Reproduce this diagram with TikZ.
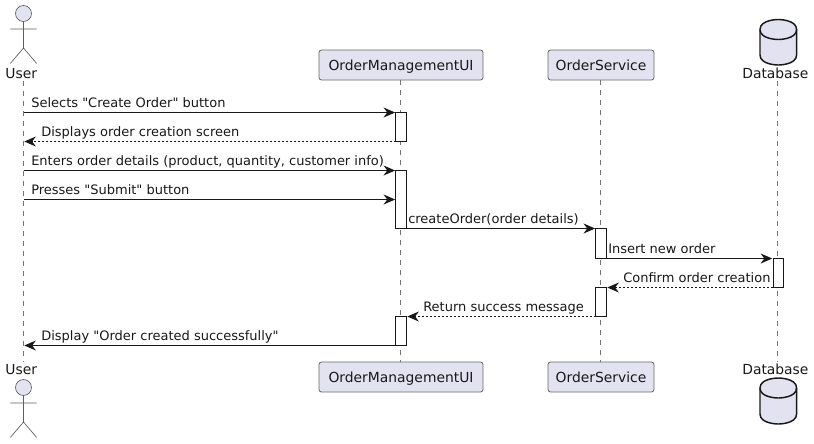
\documentclass[tikz,border=0pt]{standalone}
\usepackage{fontspec}
\newfontfamily\djv{DejaVu Sans}
\usetikzlibrary{arrows.meta}
\definecolor{pfill}{HTML}{E2E2F0}
\definecolor{pline}{HTML}{181818}
\tikzset{
  x=0.75pt,y=-0.75pt,
  msg/.style={draw=pline,line width=0.8pt,shorten >=0.6pt,-{Stealth[length=8.7pt,width=7.5pt,inset=2.8pt]}},
  reply/.style={msg,dash pattern=on 1.5pt off 1.5pt},
  life/.style={draw=pline!60,line width=0.55pt,dash pattern=on 3.75pt off 3.75pt},
  headbox/.style={draw=pline!65,fill=pfill,rounded corners=1.9pt,line width=0.65pt,minimum width=#1*0.75pt,minimum height=22.5pt,inner sep=0pt,outer sep=0pt,text=pline,text height=8.5pt,text depth=1pt,font=\djv\fontsize{10.4pt}{12pt}\selectfont},
  act/.style={draw=pline,fill=white,line width=0.8pt,minimum width=7.9pt,minimum height=#1*0.75pt,inner sep=0pt,outer sep=0pt},
  lbl/.style={anchor=base west,inner sep=0pt,text=pline,font=\djv\fontsize{9.75pt}{12pt}\selectfont},
  plbl/.style={anchor=base,inner sep=0pt,text=pline,font=\djv\fontsize{10.4pt}{12pt}\selectfont},
  actorline/.style={draw=pline!70,line width=0.5pt,fill=pfill},
  dbline/.style={draw=pline,line width=1.1pt,fill=pfill},
}
\begin{document}
\begin{tikzpicture}
\useasboundingbox (0,0) rectangle (814,443);
% participant heads
\node[headbox=164] (omT) at (401,65) {OrderManagementUI};
\node[headbox=106] (osT) at (601,65) {OrderService};
\node[headbox=164] (omB) at (401,377) {OrderManagementUI};
\node[headbox=106] (osB) at (601,377) {OrderService};
\coordinate (uT) at (23.5,81);
\coordinate (uB) at (23.5,362);
\coordinate (dT) at (777.5,81);
\coordinate (dB) at (777.5,362);
% lifelines
\draw[life] (uT) -- (uB);
\draw[life] (omT.south -| 400.5,0) -- (omB.north -| 400.5,0);
\draw[life] (osT.south -| 600.5,0) -- (osB.north -| 600.5,0);
\draw[life] (dT) -- (dB);
% activations
\node[act=29] (a1) at (401.2,127) {};
\node[act=58] (a2) at (401.2,199.5) {};
\node[act=30] (b1) at (601.2,243.5) {};
\node[act=29] (d1) at (778.3,273) {};
\node[act=29] (b2) at (601.2,302) {};
\node[act=29] (a3) at (401.2,331) {};
% user actor, top and bottom
\draw[actorline] (23.5,13.5) circle[radius=8];
\draw[actorline,fill=none] (23.5,21.5) -- (23.5,48) (10.3,29) -- (36.7,29) (10.3,63.5) -- (23.5,48) -- (36.7,63.5);
\draw[actorline] (23.5,387.5) circle[radius=8];
\draw[actorline,fill=none] (23.5,395.5) -- (23.5,422) (10.3,403) -- (36.7,403) (10.3,437.5) -- (23.5,422) -- (36.7,437.5);
\node[plbl] (uLT) at (21.3,78) {User};
\node[plbl] (uLB) at (21.3,374) {User};
% database
\draw[dbline] (760,29.5) .. controls (760,19.5) and (778.3,19.5) .. (778.3,19.5) .. controls (778.3,19.5) and (796.6,19.5) .. (796.6,29.5) -- (796.6,55) .. controls (796.6,65) and (778.3,65) .. (778.3,65) .. controls (778.3,65) and (760,65) .. (760,55) -- cycle;
\draw[dbline,fill=none] (760,29.5) .. controls (760,39.5) and (778.3,39.5) .. (778.3,39.5) .. controls (778.3,39.5) and (796.6,39.5) .. (796.6,29.5);
\draw[dbline] (760,388) .. controls (760,378) and (778.3,378) .. (778.3,378) .. controls (778.3,378) and (796.6,378) .. (796.6,388) -- (796.6,414) .. controls (796.6,424) and (778.3,424) .. (778.3,424) .. controls (778.3,424) and (760,424) .. (760,414) -- cycle;
\draw[dbline,fill=none] (760,388) .. controls (760,398) and (778.3,398) .. (778.3,398) .. controls (778.3,398) and (796.6,398) .. (796.6,388);
\node[plbl] (dLT) at (775.4,78) {Database};
\node[plbl] (dLB) at (775.4,374) {Database};
% messages
\coordinate (m1) at (23.5,112.5);
\coordinate (m2) at (23.5,141.5);
\coordinate (m3) at (23.5,170.5);
\coordinate (m4) at (23.5,199.5);
\coordinate (m9) at (23.5,345.5);
\draw[msg] (m1) -- (a1.north west);
\draw[reply] (a1.south west) -- (m2);
\draw[msg] (m3) -- (a2.north west);
\draw[msg] (m4) -- (a2.west);
\draw[msg] (a2.south east) -- (b1.north west);
\draw[msg] (b1.south east) -- (d1.north west);
\draw[reply] (d1.south west) -- (b2.north east);
\draw[reply] (b2.south west) -- (a3.north east);
\draw[msg] (a3.south west) -- (m9);
% labels
\node[lbl] (t1) at (31,107) {Selects "Create Order" button};
\node[lbl] (t2) at (41,136) {Displays order creation screen};
\node[lbl] (t3) at (31,165) {Enters order details (product, quantity, customer info)};
\node[lbl] (t4) at (31,194) {Presses "Submit" button};
\node[lbl] (t5) at (408,223.5) {createOrder(order details)};
\node[lbl] (t6) at (608,253) {Insert new order};
\node[lbl] (t7) at (623,282) {Confirm order creation};
\node[lbl] (t8) at (423,311) {Return success message};
\node[lbl] (t9) at (41,340) {Display "Order created successfully"};
\end{tikzpicture}
\end{document}
